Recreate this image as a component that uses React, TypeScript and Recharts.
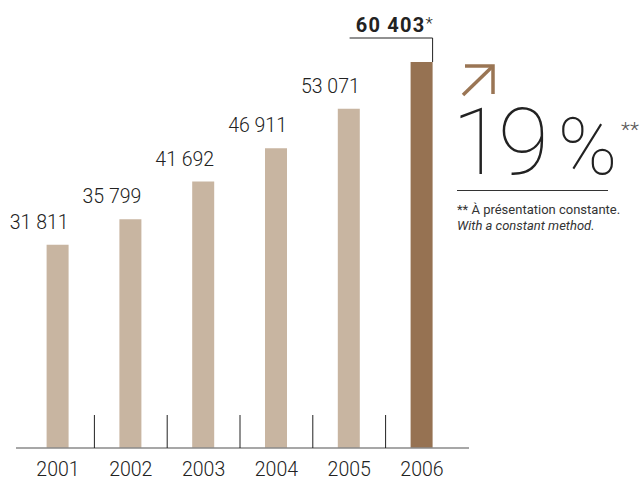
import React from 'react';
import { BarChart, Bar, XAxis, YAxis, Cell, LabelList } from 'recharts';

const years = ['2001', '2002', '2003', '2004', '2005', '2006'];
const values = [31811, 35799, 41692, 46911, 53071, 60403];
const labels = ['31 811', '35 799', '41 692', '46 911', '53 071', '60 403'];
const highlightIndex = 5;

const data = years.map((y, i) => ({ year: y, value: values[i], label: labels[i] }));

const LIGHT = '#c8b5a1';
const DARK = '#967252';
const FONT = 'Roboto, "Liberation Sans", sans-serif';

const ValueLabel = (props: any) => {
  const { x, y, width, index } = props;
  const right = Number(x) + Number(width);
  const top = Number(y);
  const text = labels[index];
  if (index === highlightIndex) {
    return (
      <g>
        <text x={right} y={top - 30} textAnchor="end" fontFamily={FONT} fontSize={20} fill="#222">
          <tspan fontWeight={700} letterSpacing={1.2}>{text}</tspan>
          <tspan fontSize={17} fontWeight={300} dx={0} dy={-3}>*</tspan>
        </text>
        <polyline
          points={`${right - 83},${top - 24} ${right},${top - 24} ${right},${top}`}
          fill="none"
          stroke="#222"
          strokeWidth={1}
        />
      </g>
    );
  }
  return (
    <text x={right} y={top - 16} textAnchor="end" fontFamily={FONT} fontWeight={300} fontSize={19.5} fill="#222">
      {text}
    </text>
  );
};

const YearTick = (props: any) => {
  const { x, y, payload, index } = props;
  const half = payload && payload.offset ? payload.offset : 36.4;
  return (
    <g>
      {index > 0 && (
        <line x1={x - half} x2={x - half} y1={y - 33} y2={y} stroke="#222" strokeWidth={1} />
      )}
      <text x={x} y={y + 28} textAnchor="middle" fontFamily={FONT} fontWeight={300} fontSize={19.5} fill="#222">
        {payload.value}
      </text>
    </g>
  );
};

export default function App() {
  return (
    <div style={{ position: 'absolute', left: 0, top: 0, width: 643, height: 481, background: '#fff' }}>
      <BarChart
        width={643}
        height={481}
        data={data}
        margin={{ top: 62, right: 174, left: 16, bottom: 0 }}
      >
        <YAxis hide domain={[0, 'dataMax']} />
        <XAxis
          dataKey="year"
          height={33}
          padding={{ left: 5.6, right: 10.6 }}
          axisLine={{ stroke: '#8a8a8a', strokeWidth: 1.3 }}
          tickLine={false}
          tickSize={0}
          tickMargin={0}
          interval={0}
          tick={<YearTick />}
        />
        <Bar dataKey="value" barSize={22} isAnimationActive={false}>
          {data.map((d, i) => (
            <Cell key={d.year} fill={i === highlightIndex ? DARK : LIGHT} />
          ))}
          <LabelList dataKey="label" content={<ValueLabel />} />
        </Bar>
      </BarChart>
      <svg
        width={643}
        height={481}
        style={{ position: 'absolute', left: 0, top: 0, pointerEvents: 'none' }}
      >
        <g stroke="#9a7554" strokeWidth={3.5} fill="none" strokeLinecap="butt">
          <line x1={463} y1={95} x2={493} y2={66} />
          <polyline points="465,66 493,66 493,94" />
        </g>
        <text x={452} y={174} fontFamily={FONT} fontWeight={100} fontSize={93} fill="#222" letterSpacing={-5}>
          19
          <tspan fontSize={80} dx={14}>%</tspan>
        </text>
        <text x={621} y={137} fontFamily={FONT} fontWeight={300} fontSize={21} fill="#555">**</text>
        <line x1={457} x2={608} y1={190.5} y2={190.5} stroke="#333" strokeWidth={1} />
        <text x={457} y={214} fontFamily={FONT} fontSize={13} fill="#333">** À présentation constante.</text>
        <text x={457} y={230} fontFamily={FONT} fontSize={13} fontStyle="italic" fill="#333">With a constant method.</text>
      </svg>
    </div>
  );
}
